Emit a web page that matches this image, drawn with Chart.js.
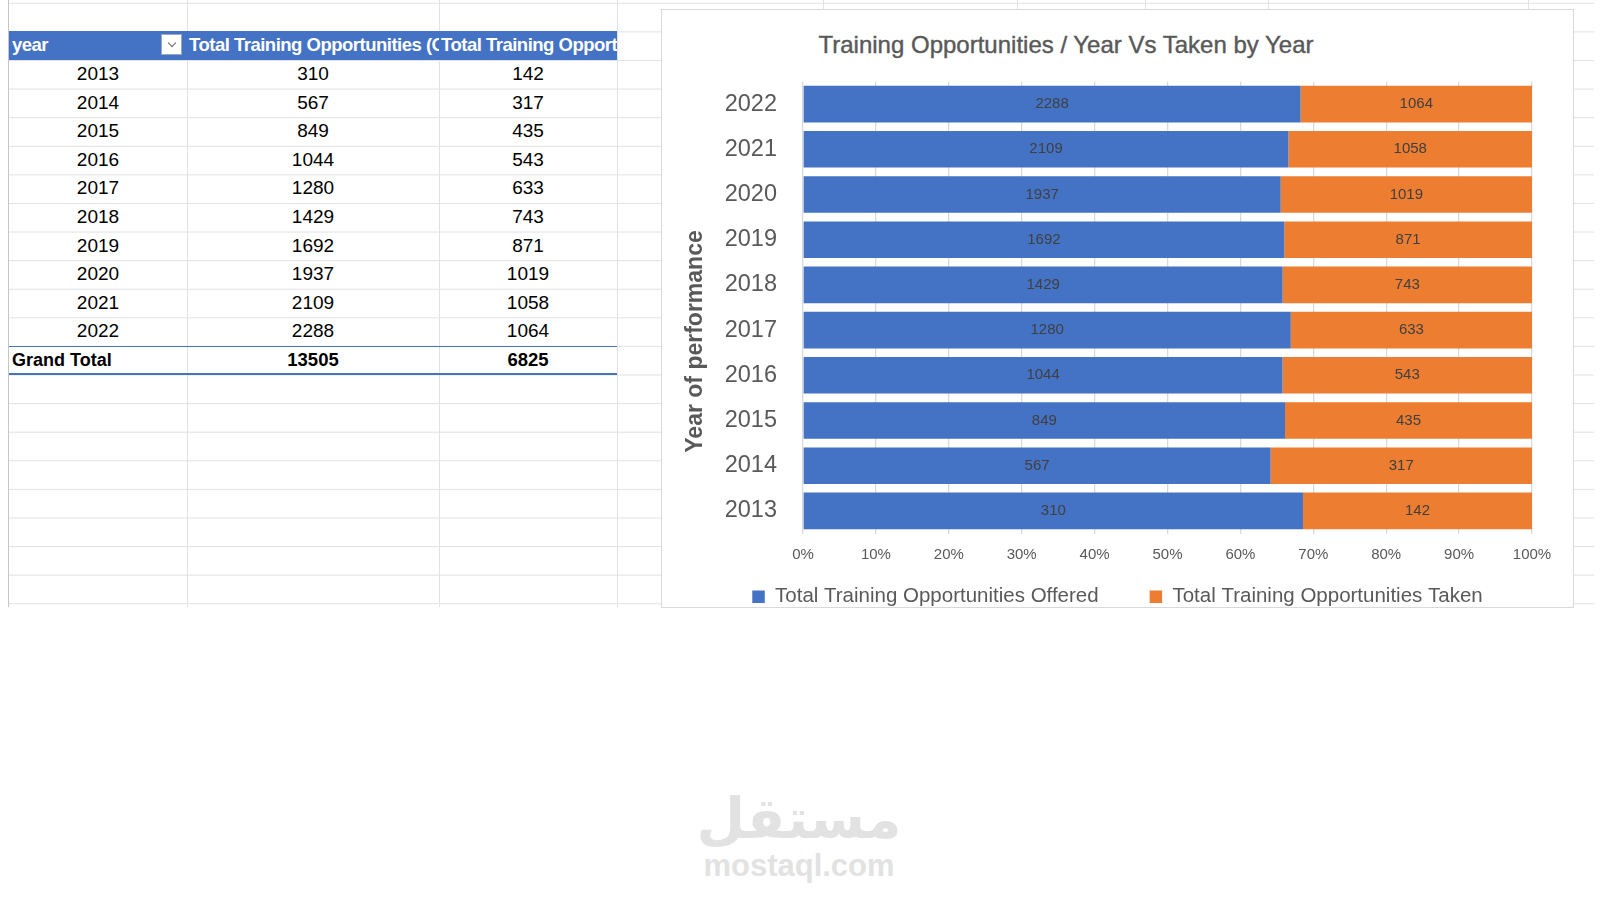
<!DOCTYPE html>
<html>
<head>
<meta charset="utf-8">
<title>Training Opportunities / Year Vs Taken by Year</title>
<script src="https://cdn.jsdelivr.net/npm/chart.js@4.4.1/dist/chart.umd.min.js"></script>
<style>
    html, body { margin: 0; padding: 0; background: #fff; }
    body { width: 1600px; height: 900px; position: relative; overflow: hidden; font-family: "Liberation Sans", Arial, sans-serif; }

    #sheet {
        position: absolute; left: 8px; top: 0; width: 1585px; height: 607px;
        border-left: 1px solid #c6c6c6;
        background-image: linear-gradient(to bottom, #e1e1e1 1px, transparent 1px);
        background-size: 100% 28.6px;
        background-position: 0 2.8px;
    }
    .vline { position: absolute; top: 0; width: 1px; height: 607px; background: #e1e1e1; }

    #pivot { position: absolute; left: 9px; top: 31.4px; width: 608px; }
    .row { display: flex; height: 28.6px; line-height: 28.6px; font-size: 19px; color: #000; }
    .row div { text-align: center; overflow: hidden; white-space: nowrap; }
    .c1 { width: 178px; } .c2 { width: 252px; } .c3 { width: 178px; }
    .head { background: #4472c4; color: #fff; font-weight: bold; font-size: 18.5px; letter-spacing: -0.5px; position: relative; }
    .head div { text-align: left; }
    .head .c1 { padding-left: 3px; width: 175px; }
    .head .c2 { padding-left: 2px; width: 250px; }
    .head .c3 { padding-left: 2px; width: 176px; }
    .filter { position: absolute; left: 152px; top: 3px; width: 21px; height: 21px; background: #fff; border: 1px solid #9aa8c0; box-sizing: border-box; }
    .filter::after { content: ""; position: absolute; left: 7px; top: 5px; width: 5px; height: 5px; border-right: 1.5px solid #666; border-bottom: 1.5px solid #666; transform: rotate(45deg); }
    .total { font-weight: bold; font-size: 18.5px; border-top: 1px solid #4472c4; border-bottom: 2px solid #4472c4; box-sizing: border-box; height: 29px; line-height: 26px; }
    .total .c1 { text-align: left; padding-left: 3px; width: 175px; font-size: 18px; }

    #chartBox {
        position: absolute; left: 662px; top: 10px; width: 911px; height: 597px;
        background: #fff; box-shadow: 0 0 0 1px #d9d9d9; overflow: hidden;
    }
    #chartTitle {
        position: absolute; left: 0; top: 21px; width: 808px; text-align: center;
        font-size: 24px; line-height: 28px; color: #595959; -webkit-text-stroke: 0.4px #595959;
    }
    #chart { position: absolute; left: 0; top: 0; }

    .mark { position: absolute; left: 0; width: 1598px; text-align: center; color: #e2e2e2; font-weight: bold; }
    #markAr { top: 784px; font-family: "DejaVu Sans", sans-serif; font-size: 56px; line-height: 70px; }
    #markEn { top: 848px; font-family: "Liberation Sans", Arial, sans-serif; font-size: 31px; line-height: 36px; }
</style>
</head>
<body>

<div id="sheet"></div>
<div class="vline" style="left:187px"></div>
<div class="vline" style="left:439px"></div>
<div class="vline" style="left:617px"></div>
<div class="vline" style="left:823px"></div>
<div class="vline" style="left:1017px"></div>
<div class="vline" style="left:1145px"></div>
<div class="vline" style="left:1268px"></div>
<div class="vline" style="left:1528px"></div>

<div id="pivot"></div>

<div id="chartBox">
    <div id="chartTitle">Training Opportunities / Year Vs Taken by Year</div>
    <canvas id="chart" width="911" height="620"></canvas>
</div>

<div class="mark" id="markAr">مستقل</div>
<div class="mark" id="markEn">mostaql.com</div>

<script>
const years = ['2013', '2014', '2015', '2016', '2017', '2018', '2019', '2020', '2021', '2022'];
const offered = [310, 567, 849, 1044, 1280, 1429, 1692, 1937, 2109, 2288];
const taken = [142, 317, 435, 543, 633, 743, 871, 1019, 1058, 1064];
const xTickLabels = ['0%', '10%', '20%', '30%', '40%', '50%', '60%', '70%', '80%', '90%', '100%'];

// pivot table on the left
const pivot = document.getElementById('pivot');
let rows = `
    <div class="row head">
        <div class="c1">year</div><span class="filter"></span>
        <div class="c2">Total Training Opportunities (Offered)</div>
        <div class="c3">Total Training Opportunities (Taken)</div>
    </div>`;
rows += years.map((y, i) => `
    <div class="row">
        <div class="c1">${y}</div><div class="c2">${offered[i]}</div><div class="c3">${taken[i]}</div>
    </div>`).join('');
const sumOffered = offered.reduce((a, b) => a + b, 0);
const sumTaken = taken.reduce((a, b) => a + b, 0);
rows += `
    <div class="row total">
        <div class="c1">Grand Total</div><div class="c2">${sumOffered}</div><div class="c3">${sumTaken}</div>
    </div>`;
pivot.innerHTML = rows;

// 100% stacked shares
const offeredShare = offered.map((v, i) => v / (v + taken[i]) * 100);
const takenShare = taken.map((v, i) => v / (v + offered[i]) * 100);

const barLabels = {
    id: 'barLabels',
    afterDatasetsDraw(chart) {
        const ctx = chart.ctx;
        ctx.save();
        ctx.font = '15px "Liberation Sans", Arial, sans-serif';
        ctx.fillStyle = '#404040';
        ctx.textAlign = 'center';
        ctx.textBaseline = 'middle';
        chart.data.datasets.forEach((ds, i) => {
            chart.getDatasetMeta(i).data.forEach((bar, j) => {
                const p = bar.getProps(['x', 'y', 'base'], true);
                ctx.fillText(ds.counts[j], (p.x + p.base) / 2, p.y);
            });
        });
        ctx.restore();
    }
};

// Excel puts the axis title a bit below the middle of the plot
const yAxisTitle = {
    id: 'yAxisTitle',
    afterDraw(chart) {
        const ctx = chart.ctx;
        const a = chart.chartArea;
        ctx.save();
        ctx.translate(34, (a.top + a.bottom) / 2 + 34);
        ctx.rotate(-Math.PI / 2);
        ctx.font = 'bold 23px "Liberation Sans", Arial, sans-serif';
        ctx.fillStyle = '#595959';
        ctx.textAlign = 'center';
        ctx.textBaseline = 'middle';
        ctx.fillText('Year of performance', 0, 0);
        ctx.restore();
    }
};

Chart.defaults.font.family = '"Liberation Sans", Arial, sans-serif';
Chart.defaults.color = '#595959';

new Chart(document.getElementById('chart'), {
    type: 'bar',
    data: {
        labels: years,
        datasets: [
            { label: 'Total Training Opportunities Offered\u2003\u2003', data: offeredShare, counts: offered, backgroundColor: '#4472c4' },
            { label: 'Total Training Opportunities Taken', data: takenShare, counts: taken, backgroundColor: '#ed7d31' }
        ]
    },
    options: {
        indexAxis: 'y',
        responsive: false,
        animation: false,
        barPercentage: 0.81,
        categoryPercentage: 1,
        layout: { padding: { left: 41, right: 41, top: 71.5, bottom: 13 } },
        scales: {
            x: {
                stacked: true, min: 0, max: 100,
                grid: { color: '#d9d9d9', lineWidth: 1.3, drawTicks: false },
                border: { display: false },
                ticks: { stepSize: 10, padding: 12, font: { size: 15 }, callback: (v, i) => xTickLabels[i] },
                afterFit: s => { s.height = 43; }
            },
            y: {
                stacked: true, reverse: true,
                grid: { display: false, drawTicks: false },
                border: { display: false },
                ticks: { padding: 26, font: { size: 23.5 } },
                afterFit: s => { s.width = 100; }
            }
        },
        plugins: {
            legend: {
                position: 'bottom',
                labels: { boxWidth: 12.5, boxHeight: 12.5, padding: 10, font: { size: 20.5 } }
            },
            tooltip: { enabled: false }
        }
    },
    plugins: [barLabels, yAxisTitle]
});
</script>
</body>
</html>
